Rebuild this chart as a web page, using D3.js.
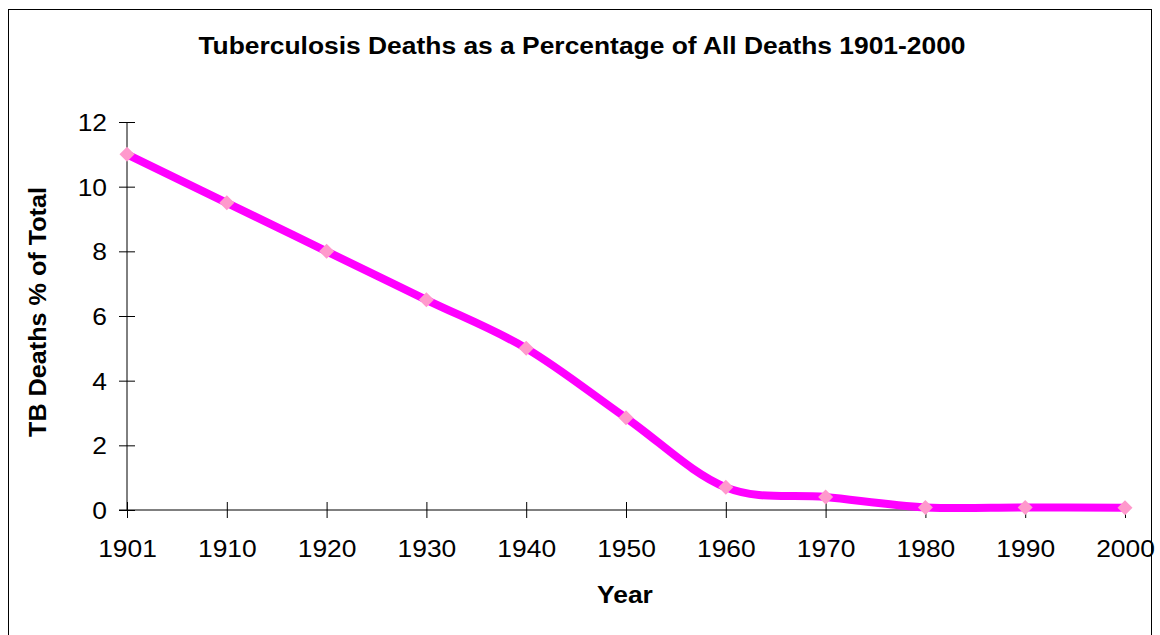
<!DOCTYPE html>
<html>
<head>
<meta charset="utf-8">
<script src="https://cdn.jsdelivr.net/npm/d3@7"></script>
<style>
  html, body { margin: 0; padding: 0; background: #fff; }
  svg { display: block; font-family: Arial, "Liberation Sans", sans-serif; }
</style>
</head>
<body>
<svg id="chart" width="1160" height="635"></svg>
<script>
// Tuberculosis deaths as a share of all deaths, by year
const years = ["1901", "1910", "1920", "1930", "1940", "1950", "1960", "1970", "1980", "1990", "2000"];
const tbPercent = [11, 9.5, 8, 6.5, 5, 2.85, 0.7, 0.4, 0.08, 0.08, 0.07];
const yTicks = [0, 2, 4, 6, 8, 10, 12];

const chartTitle = "Tuberculosis Deaths as a Percentage of All Deaths 1901-2000";
const xTitle = "Year";
const yTitle = "TB Deaths % of Total";

// text is drawn slightly wide, as in the original worksheet chart
const WIDE = 1.1;

const svg = d3.select("#chart");

// outer chart frame
svg.append("rect")
  .attr("x", 8.5).attr("y", 9.5)
  .attr("width", 1143).attr("height", 700)
  .attr("fill", "#fff").attr("stroke", "#000").attr("stroke-width", 1);

const plot = { left: 127, right: 1125, top: 122, bottom: 510 };

const x = d3.scalePoint().domain(years).range([plot.left, plot.right]);
const y = d3.scaleLinear().domain([0, 12]).range([plot.bottom, plot.top]);

// y axis with ticks crossing the axis line
const yAxis = svg.append("g")
  .attr("transform", `translate(${plot.left},0)`)
  .call(d3.axisLeft(y).tickValues(yTicks).tickSize(8).tickFormat(d3.format("d")));
yAxis.select(".domain").attr("d", `M0,${plot.top}V${plot.bottom}`).attr("stroke", "#000");
yAxis.selectAll(".tick line").attr("x1", -8).attr("x2", 8).attr("stroke", "#000");
yAxis.selectAll(".tick text")
  .attr("x", 0).attr("dy", "0.36em")
  .attr("transform", `translate(-20,0) scale(${WIDE},1)`)
  .attr("font-size", 24).attr("fill", "#000")
  .attr("font-family", "Arial, 'Liberation Sans', sans-serif");

// x axis
const xAxis = svg.append("g")
  .attr("transform", `translate(0,${plot.bottom})`)
  .call(d3.axisBottom(x).tickSize(8));
xAxis.select(".domain").attr("d", `M${plot.left - 8},0H${plot.right}`).attr("stroke", "#000");
xAxis.selectAll(".tick line").attr("y1", -8).attr("y2", 8).attr("stroke", "#000");
xAxis.selectAll(".tick text")
  .attr("y", 47).attr("dy", 0)
  .attr("transform", `scale(${WIDE},1)`)
  .attr("font-size", 24).attr("fill", "#000")
  .attr("font-family", "Arial, 'Liberation Sans', sans-serif");

// smoothed series line
const line = d3.line()
  .x((d, i) => x(years[i]))
  .y(d => y(d))
  .curve(d3.curveCardinal.tension(0));

svg.append("path")
  .datum(tbPercent)
  .attr("d", line)
  .attr("fill", "none")
  .attr("stroke", "#ff00ff")
  .attr("stroke-width", 8)
  .attr("stroke-linejoin", "round");

// diamond markers
svg.append("g").selectAll("path")
  .data(tbPercent)
  .join("path")
  .attr("transform", (d, i) => `translate(${x(years[i])},${y(d)})`)
  .attr("d", "M0,-7.5L7.5,0L0,7.5L-7.5,0Z")
  .attr("fill", "#ff99cc");

// titles
svg.append("text")
  .attr("transform", `translate(582,54) scale(${WIDE},1)`)
  .attr("text-anchor", "middle")
  .attr("font-size", 24).attr("font-weight", "bold")
  .text(chartTitle);

svg.append("text")
  .attr("transform", `translate(625,603) scale(${WIDE},1)`)
  .attr("text-anchor", "middle")
  .attr("font-size", 24).attr("font-weight", "bold")
  .text(xTitle);

svg.append("text")
  .attr("transform", "translate(46,312) rotate(-90) scale(1.05,1)")
  .attr("text-anchor", "middle")
  .attr("font-size", 24).attr("font-weight", "bold")
  .text(yTitle);
</script>
</body>
</html>
